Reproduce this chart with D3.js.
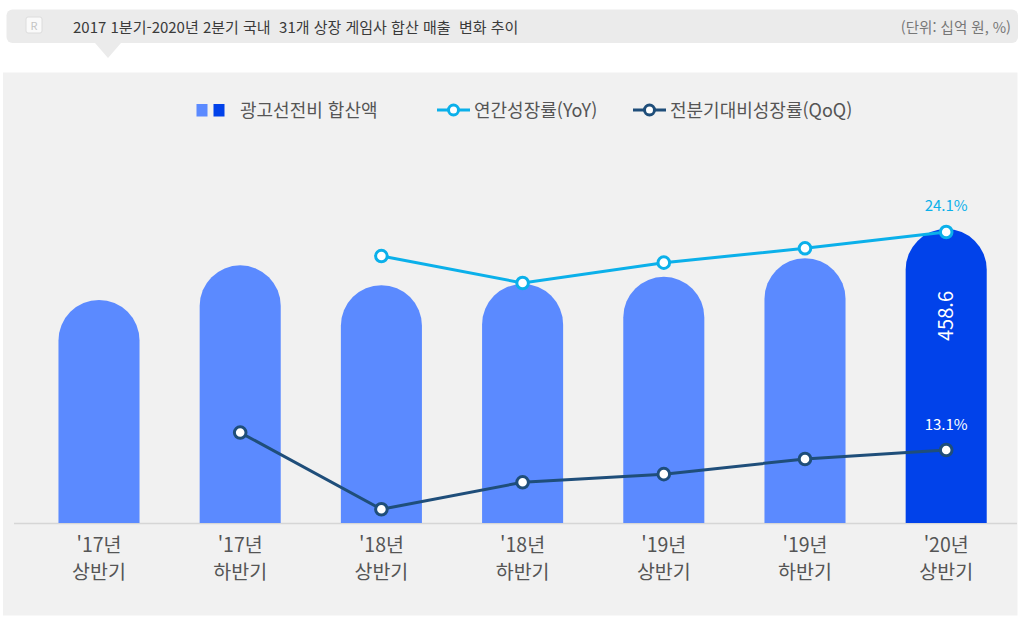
<!DOCTYPE html>
<html lang="ko">
<head>
<meta charset="utf-8">
<script src="https://cdn.jsdelivr.net/npm/d3@7"></script>
<style>
    html, body { margin: 0; padding: 0; background: #fff; }
    svg { display: block; font-family: "Noto Sans CJK KR", "Noto Sans", sans-serif; }
</style>
</head>
<body>
<div id="chart"></div>
<script>
// Données
const categories = ["'17년 상반기", "'17년 하반기", "'18년 상반기", "'18년 하반기", "'19년 상반기", "'19년 하반기", "'20년 상반기"];
const adSpend = [348, 402, 371, 373, 384, 413, 458.6];
const yoyGrowth = [null, null, 9.2, -7.5, 5.1, 14.0, 24.1];
const qoqGrowth = [null, 19.3, -8.0, 1.6, 4.5, 9.9, 13.1];
const legendLabels = ["광고선전비 합산액", "연간성장률(YoY)", "전분기대비성장률(QoQ)"];
const titleText = "2017 1분기-2020년 2분기 국내  31개 상장 게임사 합산 매출  변화 추이";
const unitText = "(단위: 십억 원, %)";

(function() {
    const width = 1024, height = 618;
    const baseY = 523;

    const colBar = "#5b8aff";
    const colBarLast = "#0142ea";
    const colYoy = "#0bb0ea";
    const colQoq = "#1f4e7a";

    const svg = d3.select("#chart")
        .append("svg")
        .attr("width", width)
        .attr("height", height);

    // En-tête
    svg.append("rect")
        .attr("x", 6.5).attr("y", 9.5)
        .attr("width", 1011.5).attr("height", 33.5)
        .attr("rx", 6)
        .attr("fill", "#ebebeb");
    svg.append("path")
        .attr("d", "M95,43 L121,43 L108,58 Z")
        .attr("fill", "#ebebeb");
    svg.append("rect")
        .attr("x", 26).attr("y", 17)
        .attr("width", 16).attr("height", 16)
        .attr("rx", 2)
        .attr("fill", "#fafafa")
        .attr("stroke", "#dcdcdc");
    svg.append("text")
        .attr("x", 34).attr("y", 29.5)
        .attr("text-anchor", "middle")
        .style("font-size", "11px")
        .attr("fill", "#c4c4c4")
        .text("R");
    svg.append("text")
        .attr("x", 73).attr("y", 33)
        .attr("xml:space", "preserve")
        .style("font-size", "15px")
        .attr("fill", "#3a3a3a")
        .text(titleText);
    svg.append("text")
        .attr("x", 1011).attr("y", 33)
        .attr("text-anchor", "end")
        .style("font-size", "14.5px")
        .attr("fill", "#777")
        .text(unitText);

    // Panneau
    svg.append("rect")
        .attr("x", 3).attr("y", 72.5)
        .attr("width", 1014.5).attr("height", 543)
        .attr("fill", "#f1f1f1");

    // Échelles
    const x = d3.scaleBand()
        .domain(categories)
        .range([28.4, 1016.8])
        .paddingInner(0.426)
        .paddingOuter(0.213);

    const y = d3.scaleLinear().domain([0, 500]).range([baseY, 202.5]);
    const yYoy = d3.scaleLinear().domain([-10, 30]).range([287.0, 222.5]);
    const yQoq = d3.scaleLinear().domain([-10, 20]).range([514.9, 430.6]);

    // Ligne de base
    svg.append("line")
        .attr("x1", 14).attr("x2", 1017)
        .attr("y1", baseY + 0.5).attr("y2", baseY + 0.5)
        .attr("stroke", "#d6d6d6")
        .attr("stroke-width", 1.5);

    // Barres arrondies
    const bw = x.bandwidth();
    const r = bw / 2;
    svg.append("g")
        .selectAll("path")
        .data(adSpend)
        .join("path")
        .attr("d", (d, i) => {
            const x0 = x(categories[i]);
            const x1 = x0 + bw;
            const yt = y(d);
            return `M${x0},${baseY} L${x0},${yt + r} A${r},${r} 0 0 1 ${x1},${yt + r} L${x1},${baseY} Z`;
        })
        .attr("fill", (d, i) => i === adSpend.length - 1 ? colBarLast : colBar);

    const cx = i => x(categories[i]) + bw / 2;

    // Valeur de la dernière barre
    const last = adSpend.length - 1;
    svg.append("text")
        .attr("transform", `translate(${cx(last) + 7},316) rotate(-90)`)
        .attr("text-anchor", "middle")
        .style("font-size", "20px")
        .attr("fill", "#fff")
        .text(adSpend[last]);

    // Lignes
    function drawLine(values, yScale, color) {
        const pts = values.map((v, i) => ({ v, i })).filter(p => p.v !== null);
        const line = d3.line()
            .x(p => cx(p.i))
            .y(p => yScale(p.v));
        svg.append("path")
            .datum(pts)
            .attr("d", line)
            .attr("fill", "none")
            .attr("stroke", color)
            .attr("stroke-width", 3);
        svg.append("g")
            .selectAll("circle")
            .data(pts)
            .join("circle")
            .attr("cx", p => cx(p.i))
            .attr("cy", p => yScale(p.v))
            .attr("r", 5.8)
            .attr("fill", "#fff")
            .attr("stroke", color)
            .attr("stroke-width", 3);
    }
    drawLine(yoyGrowth, yYoy, colYoy);
    drawLine(qoqGrowth, yQoq, colQoq);

    svg.append("text")
        .attr("x", cx(last)).attr("y", yYoy(yoyGrowth[last]) - 21)
        .attr("text-anchor", "middle")
        .style("font-size", "15px")
        .attr("fill", colYoy)
        .text(yoyGrowth[last] + "%");
    svg.append("text")
        .attr("x", cx(last)).attr("y", yQoq(qoqGrowth[last]) - 20)
        .attr("text-anchor", "middle")
        .style("font-size", "15px")
        .attr("fill", "#fff")
        .text(qoqGrowth[last] + "%");

    // Étiquettes de l'axe X (deux lignes)
    const xl = svg.append("g")
        .selectAll("g")
        .data(categories)
        .join("g")
        .attr("transform", (d, i) => `translate(${cx(i)},0)`);
    xl.append("text")
        .attr("y", 552)
        .attr("text-anchor", "middle")
        .style("font-size", "19.5px")
        .attr("fill", "#555")
        .text(d => d.split(" ")[0]);
    xl.append("text")
        .attr("y", 579)
        .attr("text-anchor", "middle")
        .style("font-size", "19.5px")
        .attr("fill", "#555")
        .text(d => d.split(" ")[1]);

    // Légende
    const lg = svg.append("g");
    lg.append("rect").attr("x", 196.5).attr("y", 104).attr("width", 11).attr("height", 12.5).attr("fill", colBar);
    lg.append("rect").attr("x", 213.5).attr("y", 104).attr("width", 11).attr("height", 12.5).attr("fill", colBarLast);
    lg.append("text").attr("x", 240).attr("y", 116.5)
        .style("font-size", "18px").attr("fill", "#555").text(legendLabels[0]);

    [[437, colYoy, legendLabels[1]], [633, colQoq, legendLabels[2]]].forEach(([lx, c, t]) => {
        lg.append("line").attr("x1", lx).attr("x2", lx + 33).attr("y1", 110).attr("y2", 110)
            .attr("stroke", c).attr("stroke-width", 3);
        lg.append("circle").attr("cx", lx + 16.5).attr("cy", 110).attr("r", 5)
            .attr("fill", "#fff").attr("stroke", c).attr("stroke-width", 3);
        lg.append("text").attr("x", lx + 37).attr("y", 116.5)
            .style("font-size", "18px").attr("fill", "#555").text(t);
    });
})();
</script>
</body>
</html>
